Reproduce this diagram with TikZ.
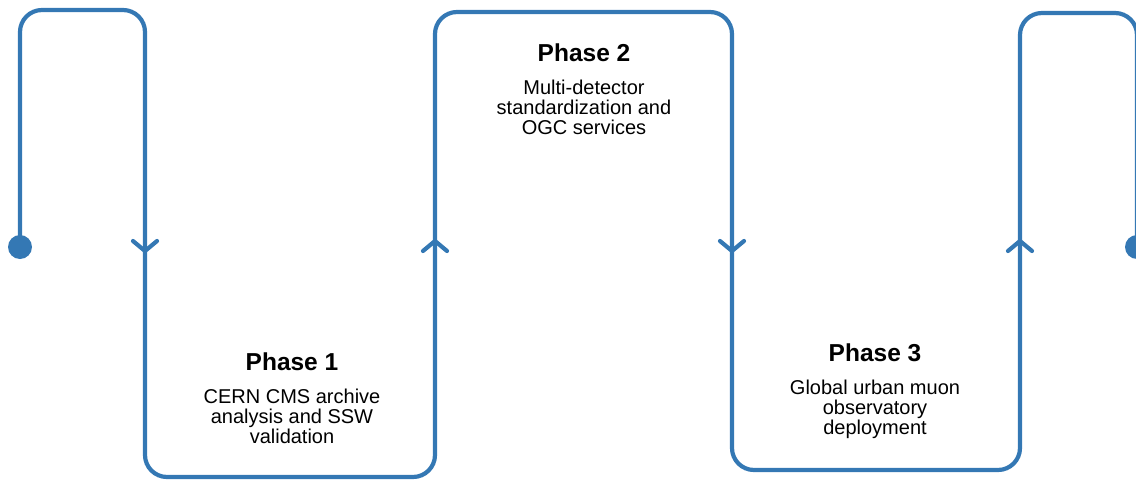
\documentclass[tikz,border=0pt]{standalone}
\usepackage{fontspec}
\setmainfont{Liberation Sans}
\usetikzlibrary{positioning}
\definecolor{flowblue}{RGB}{52,120,180}
\begin{document}
\begin{tikzpicture}[x=1pt,y=-1pt,line join=round,line cap=round,
	flow/.style={draw=flowblue,line width=4.2pt},
	dot/.style={circle,fill=flowblue,minimum size=24pt,inner sep=0pt},
	phase/.style={font=\fontsize{24.5}{26}\selectfont\bfseries,inner sep=0pt},
	task/.style={font=\fontsize{20}{20}\selectfont,align=center,inner sep=0pt}]
	\useasboundingbox (0,0) rectangle (1136,482);
	\clip (0,0) rectangle (1136,482);
	\def\ymid{247} \def\rc{22pt}
	\node[dot] (start) at (20,\ymid) {};
	\node[dot] (stop) at (1137,\ymid) {};
	\coordinate (a1) at (20,10); \coordinate (a2) at (145,10);
	\coordinate (b1) at (145,477); \coordinate (b2) at (435,477);
	\coordinate (c1) at (435,12); \coordinate (c2) at (732,12);
	\coordinate (d1) at (732,470); \coordinate (d2) at (1020,470);
	\coordinate (e1) at (1020,13); \coordinate (e2) at (1137,13);
	\draw[flow,rounded corners=\rc] (start.center) -- (a1) -- (a2) -- (b1) -- (b2) -- (c1) -- (c2)
		-- (d1) -- (d2) -- (e1) -- (e2) -- (stop.center);
	\foreach \x/\d in {145/1,435/-1,732/1,1020/-1}
	{\draw[flow] (\x-12,\ymid-1-5*\d) -- (\x,\ymid-1+5*\d) -- (\x+12,\ymid-1-5*\d);}
	\node[phase] (ph1) at (292,362) {Phase 1};
	\node[task,below=18pt of ph1.base] (tx1) {CERN CMS archive\\analysis and SSW\\validation};
	\node[phase] (ph2) at (584,53) {Phase 2};
	\node[task,below=18pt of ph2.base] (tx2) {Multi-detector\\standardization and\\OGC services};
	\node[phase] (ph3) at (875,353) {Phase 3};
	\node[task,below=18pt of ph3.base] (tx3) {Global urban muon\\observatory\\deployment};
\end{tikzpicture}
\end{document}
